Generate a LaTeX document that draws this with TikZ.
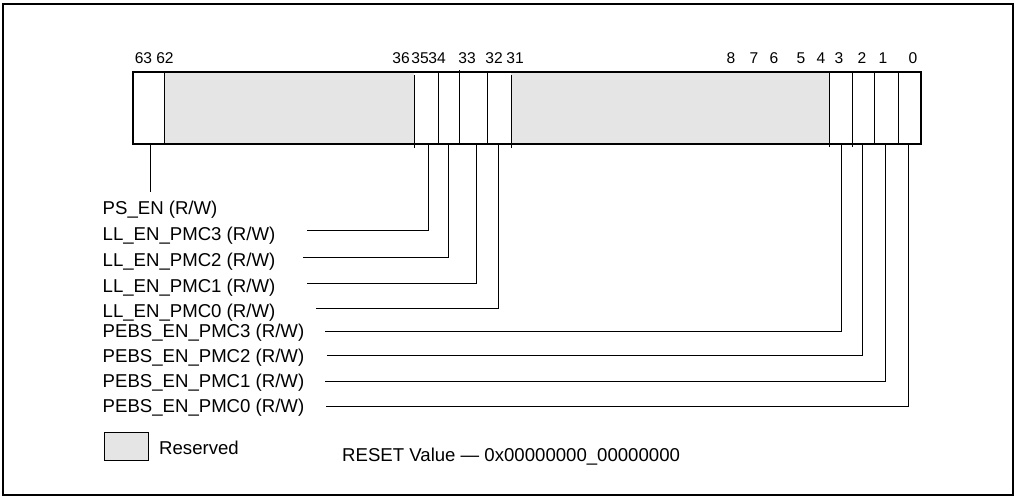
\documentclass[tikz,border=0pt]{standalone}
\usepackage{fontspec}
\setmainfont{Liberation Sans}
\usetikzlibrary{calc,positioning}
\definecolor{resv}{gray}{0.9}
\tikzset{
  frame/.style={draw=black,line width=1.6pt},
  reg/.style={draw=black,line width=2.2pt},
  div/.style={black,line width=0.9pt},
  lead/.style={black,line width=0.9pt},
  bitno/.style={anchor=base,inner sep=0pt,font=\fontsize{15.6}{17}\selectfont},
  fld/.style={anchor=base west,inner sep=0pt,font=\fontsize{18.6}{21}\selectfont}
}

\begin{document}
\begin{tikzpicture}[x=1pt,y=-1pt]
\useasboundingbox (0,0) rectangle (1015,496);
\draw[frame] (3,4) rectangle (1013,495);
% reserved ranges
\fill[resv] (164,72) rectangle (414,144);
\fill[resv] (511,72) rectangle (829,144);
\draw[reg] (133,72) rectangle (921,144);
% field boundaries
\foreach \x in {164,438,487,874,898} \draw[div] (\x,72)--(\x,144);
\foreach \x in {414,511} \draw[div] (\x,75)--(\x,148);
\draw[div] (459,70)--(459,144);
\foreach \x in {829,852} \draw[div] (\x,72)--(\x,147);
% bit numbers
\foreach \b/\x in {63/143.5,62/165,36/401,35/420,34/437,33/467,32/494,31/515,
  8/731,7/754,6/774,5/801,4/821,3/839,2/862,1/883,0/913}
  \node[bitno] (n\b) at (\x,63) {\b};
% PS_EN
\node[fld] (ps) at (102.5,214) {PS\_EN (R/W)};
\coordinate (psb) at (150,144);
\coordinate (pse) at (150,192);
\draw[lead] (psb) -- (pse);
% single bit fields
\foreach \n/\txt/\base/\bx/\ly/\lx in {
  ll3/LL\_EN\_PMC3/240/428/230/307,
  ll2/LL\_EN\_PMC2/266/448/257/303,
  ll1/LL\_EN\_PMC1/292/476/283/307,
  ll0/LL\_EN\_PMC0/317/498/308/316,
  pb3/PEBS\_EN\_PMC3/337/841/331/325,
  pb2/PEBS\_EN\_PMC2/362/862/355/327,
  pb1/PEBS\_EN\_PMC1/387.5/885/381/325,
  pb0/PEBS\_EN\_PMC0/412.5/908/406/326}
{
  \node[fld] (\n) at (102.5,\base) {\txt{} (R/W)};
  \coordinate (\n b) at (\bx,144);
  \coordinate (\n e) at (\lx,\ly);
  \draw[lead] (\n b) |- (\n e);
}
% legend
\node[draw=black,line width=0.9pt,fill=resv,minimum width=44,minimum height=28,inner sep=0pt] (key) at (126,446) {};
\node[fld] (keytxt) at (159,454) {Reserved};
\node[fld] (rst) at (342,461) {RESET Value --- 0x00000000\_00000000};
\end{tikzpicture}
\end{document}
